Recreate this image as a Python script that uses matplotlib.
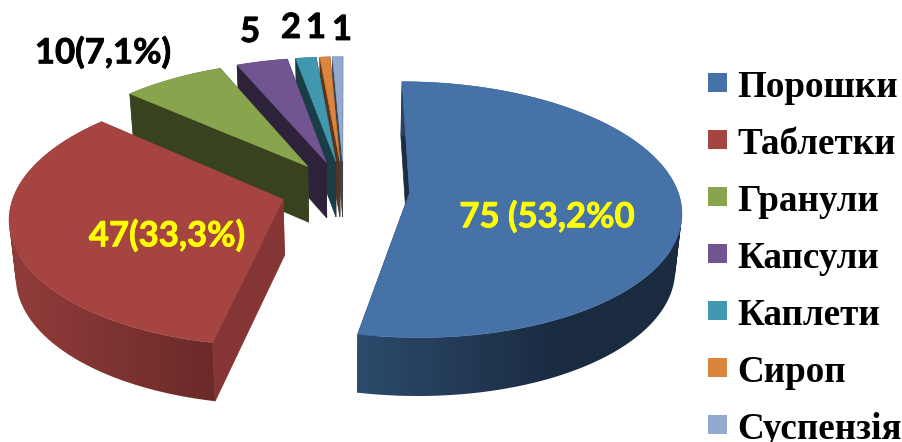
import numpy as np
import matplotlib
matplotlib.use('Agg')
import matplotlib.pyplot as plt
import matplotlib.patheffects as pe
from matplotlib.colors import LinearSegmentedColormap
from matplotlib.patches import Rectangle, Polygon, PathPatch
from matplotlib.path import Path

# Лікарські форми
categories = ['Порошки', 'Таблетки', 'Гранули', 'Капсули', 'Каплети', 'Сироп', 'Суспензія']
values = [75, 47, 10, 5, 2, 1, 1]
value_labels = ['75 (53,2%0', '47(33,3%)', '10(7,1%)', '5', '2', '1', '1']

top_colors = ['#4672A8', '#A64442', '#88A44C', '#715590', '#4198AF', '#DB843D', '#93A9CF']
wall_colors = ['#1B2D42', '#843534', '#38421F', '#2D2239', '#1A3D46', '#5A3519', '#3B4453']
rim_left = ['#2C4A6C', '#8E3B39', '#38421F', '#2D2239', '#1A3D46', '#5A3519', '#3B4453']
rim_right = ['#1A2B40', '#6A2A28', '#38421F', '#2D2239', '#1A3D46', '#5A3519', '#3B4453']
rim_span = [(360, 560), (30, 215), (0, 902), (0, 902), (0, 902), (0, 902), (0, 902)]

explode = [0.245, 0.237, 0.237, 0.237, 0.237, 0.237, 0.237]
label_pos = [(547, 217), (167, 236), (103, 53), (250, 32), (291, 28), (316, 28), (342, 30)]
label_colors = ['#FFFF00', '#FFFF00', 'black', 'black', 'black', 'black', 'black']
legend_y = [82, 139, 196, 253, 310, 367, 424]

# Параметри перспективи
X0, Y0 = 344, 190
A, B = 268, 125
K = 0.129
DEPTH = 56
Z_BOTTOM = 0.98


def project(u, v, bottom=False):
    s = 1 / (1 + K * v)
    if bottom:
        return X0 + A * u * s * Z_BOTTOM, Y0 - B * v * s + DEPTH * s ** 0.3
    return X0 + A * u * s, Y0 - B * v * s


def rim_path(tx, ty, bx, by):
    # об'єднання чотирикутників однакової орієнтації, щоб контур збоку був суцільним
    parts = []
    for j in range(len(tx) - 1):
        q = np.array([(tx[j], ty[j]), (tx[j + 1], ty[j + 1]), (bx[j + 1], by[j + 1]), (bx[j], by[j])])
        area = np.sum(q[:, 0] * np.roll(q[:, 1], -1) - np.roll(q[:, 0], -1) * q[:, 1])
        if area < 0:
            q = q[::-1]
        parts.append(Path(np.vstack([q, q[0]]), closed=True))
    return Path.make_compound_path(*parts)


fig = plt.figure(figsize=(9.02, 4.42), dpi=100)
ax = fig.add_axes([0, 0, 1, 1])

wedges, _ = ax.pie(values, explode=explode, startangle=90, counterclock=False)

for i in range(len(wedges) - 1, -1, -1):
    w = wedges[i]
    w.set_visible(False)
    z = 2 + (len(wedges) - i)
    cu, cv = w.center
    theta = np.radians(np.linspace(w.theta1, w.theta2, 160))
    us = cu + w.r * np.cos(theta)
    vs = cv + w.r * np.sin(theta)

    # бокові грані від центру до краю
    for end in (0, -1):
        tx, ty = project(np.array([cu, us[end]]), np.array([cv, vs[end]]))
        bx, by = project(np.array([cu, us[end]]), np.array([cv, vs[end]]), bottom=True)
        pts = np.column_stack([np.r_[tx, bx[::-1]], np.r_[ty, by[::-1]]])
        ax.add_patch(Polygon(pts, closed=True, fc=wall_colors[i], ec=wall_colors[i], lw=0.5, zorder=z))

    # зовнішній край з градієнтом, обрізаний по контуру
    tx, ty = project(us, vs)
    bx, by = project(us, vs, bottom=True)
    rim = PathPatch(rim_path(tx, ty, bx, by), fc='none', ec='none')
    ax.add_patch(rim)
    cmap = LinearSegmentedColormap.from_list('rim', [rim_left[i], rim_right[i]])
    xs = np.arange(902) + 0.5
    shade = np.clip((xs - rim_span[i][0]) / (rim_span[i][1] - rim_span[i][0]), 0, 1)
    grad = ax.imshow(shade[None, :], cmap=cmap, vmin=0, vmax=1, aspect='auto',
                     extent=(0, 902, 442, 0), zorder=z + 0.1)
    grad.set_clip_path(rim)

    # верхня грань
    px, py = project(np.r_[cu, us], np.r_[cv, vs])
    ax.add_patch(Polygon(np.column_stack([px, py]), closed=True, fc=top_colors[i], ec=top_colors[i],
                         lw=0.4, zorder=z + 0.2))

ax.set_aspect('auto')
ax.set_xlim(0, 902)
ax.set_ylim(442, 0)
ax.axis('off')

for lab, (x, y), col in zip(value_labels, label_pos, label_colors):
    ax.text(x, y, lab, color=col, family='Lato', weight='bold', fontsize=25, ha='center', va='center',
            zorder=20, path_effects=[pe.withStroke(linewidth=0.6, foreground=col)])

for name, col, y in zip(categories, top_colors, legend_y):
    ax.add_patch(Rectangle((708, y - 9.5), 19, 19, fc=col, ec='none', zorder=20))
    ax.text(737, y + 15, name, family='Liberation Serif', weight='bold', fontsize=26.7,
            color='black', ha='left', va='baseline', zorder=20)

fig.savefig('out.png', dpi=100)
